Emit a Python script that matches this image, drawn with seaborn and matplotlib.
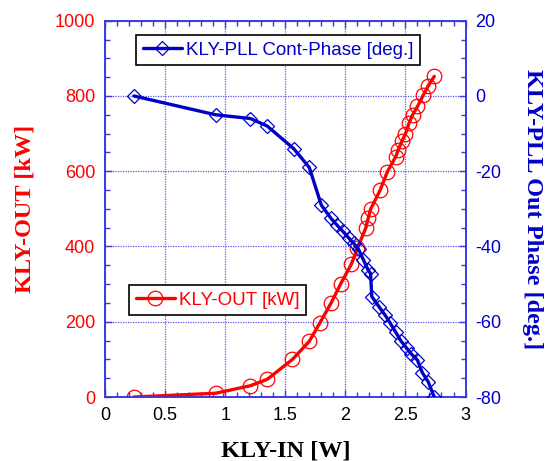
import matplotlib
matplotlib.use("Agg")
import matplotlib.pyplot as plt
import seaborn as sns
import pandas as pd
from matplotlib.ticker import MultipleLocator

# ---- data ----
out_x = [0.24, 0.92, 1.21, 1.35, 1.56, 1.70, 1.79, 1.88, 1.96, 2.05, 2.10, 2.17,
         2.19, 2.21, 2.29, 2.35, 2.42, 2.44, 2.47, 2.50, 2.53, 2.56, 2.60, 2.65,
         2.69, 2.74]
out_kw = [0, 10, 30, 47, 100, 148, 198, 249, 300, 353, 395, 449,
          475, 499, 550, 599, 639, 657, 679, 699, 728, 750, 772, 803,
          827, 852]

ph_x = [0.24, 0.92, 1.21, 1.35, 1.57, 1.70, 1.80, 1.88, 1.93, 1.98, 2.03, 2.07,
        2.11, 2.15, 2.19, 2.21, 2.22, 2.28, 2.33, 2.37, 2.42, 2.46, 2.51, 2.55,
        2.60, 2.64, 2.69, 2.74]
ph_deg = [0, -5, -6, -8, -14, -19, -29, -32.5, -34.3, -36, -37.8, -39.2,
          -40.8, -43.5, -46.3, -47.2, -53.3, -56, -58.2, -60.2, -62.8, -65, -67, -68.6,
          -70.2, -73.5, -76, -80]

out_label = "KLY-OUT [kW]"
ph_label = "KLY-PLL Cont-Phase [deg.]"

df_out = pd.DataFrame({"x": out_x, "y": out_kw})
df_ph = pd.DataFrame({"x": ph_x, "y": ph_deg})

sns.set_style("ticks")
plt.rcParams["font.family"] = ["Liberation Sans", "DejaVu Sans"]
plt.rcParams["axes.unicode_minus"] = False

RED = "#ff0000"
BLUE = "#0000c8"
SPINE = "#3a3ad8"
GRID = "#5a5aee"

fig = plt.figure(figsize=(5.48, 4.61), dpi=100)
ax1 = fig.add_axes([0.1916, 0.1388, 0.6579, 0.8163])
ax2 = ax1.twinx()

sns.lineplot(data=df_out, x="x", y="y", ax=ax1, sort=False, color=RED,
             linewidth=2.4, marker="o", markersize=10.5, markerfacecolor="none",
             markeredgecolor=RED, markeredgewidth=0.9, label=out_label, zorder=3)
sns.lineplot(data=df_ph, x="x", y="y", ax=ax2, sort=False, color=BLUE,
             linewidth=2.4, marker="D", markersize=7, markerfacecolor="none",
             markeredgecolor=BLUE, markeredgewidth=0.9, label=ph_label, zorder=3)

ax1.set_xlim(0, 3)
ax1.set_ylim(0, 1000)
ax2.set_ylim(-80, 20)

ax1.xaxis.set_major_locator(MultipleLocator(0.5))
ax1.xaxis.set_minor_locator(MultipleLocator(0.1))
ax1.yaxis.set_major_locator(MultipleLocator(200))
ax1.yaxis.set_minor_locator(MultipleLocator(50))
ax2.yaxis.set_major_locator(MultipleLocator(20))
ax2.yaxis.set_minor_locator(MultipleLocator(5))
ax1.set_xticks([0, 0.5, 1, 1.5, 2, 2.5, 3])
ax1.set_xticklabels(["0", "0.5", "1", "1.5", "2", "2.5", "3"])

ax1.grid(True, which="major", linestyle=(0, (1, 1)), color=GRID, linewidth=0.9)
ax1.set_axisbelow(True)

for ax in (ax1, ax2):
    for s in ax.spines.values():
        s.set_color(SPINE)
        s.set_linewidth(1.2)
        s.set_visible(True)

ax1.tick_params(axis="both", which="both", direction="in", color=SPINE,
                top=True, right=False, labelsize=13, pad=7)
ax1.tick_params(which="major", length=5, width=1)
ax1.tick_params(which="minor", length=3.5, width=1)
ax1.tick_params(axis="y", labelcolor=RED)
ax1.tick_params(axis="x", labelcolor="black")
ax2.tick_params(axis="y", which="both", direction="in", color=SPINE,
                labelcolor=BLUE, labelsize=13, pad=7)
ax2.tick_params(axis="y", which="major", length=5, width=1)
ax2.tick_params(axis="y", which="minor", length=3.5, width=1)

serif = dict(family=["Liberation Serif", "DejaVu Serif"], weight="bold", size=17.5)
ax1.set_xlabel("KLY-IN [W]", color="black", labelpad=12, **serif)
ax1.set_ylabel("KLY-OUT [kW]", color=RED, labelpad=14, **serif)
ax2.set_ylabel("KLY-PLL Out Phase [deg.]", color=BLUE, rotation=270,
               labelpad=30, **serif)

leg_kw = dict(loc="upper left", frameon=True, fancybox=False, framealpha=1,
              edgecolor="black", borderaxespad=0, handlelength=2.1,
              handletextpad=0.2, borderpad=0.35, fontsize=13.5)
l1 = ax1.legend(bbox_to_anchor=(0.067, 0.298), **leg_kw)
l2 = ax2.legend(bbox_to_anchor=(0.086, 0.962), **leg_kw)
for leg, c in ((l1, RED), (l2, BLUE)):
    leg.get_frame().set_linewidth(1.2)
    for t in leg.get_texts():
        t.set_color(c)

fig.savefig("out.png", dpi=100)
